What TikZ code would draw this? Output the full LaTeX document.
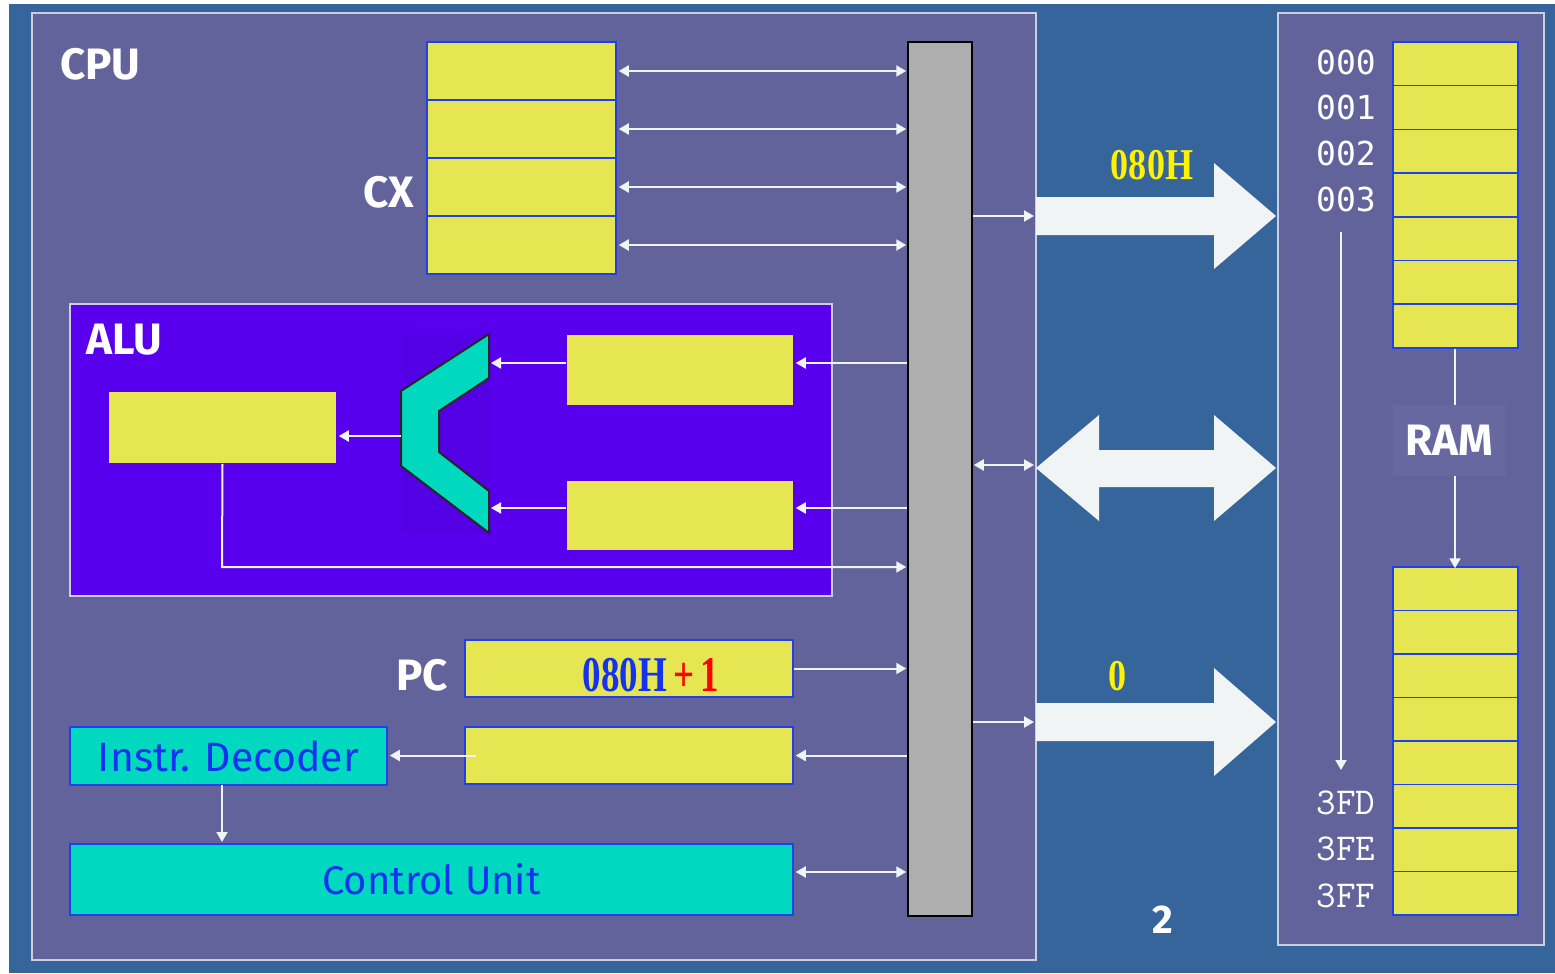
\documentclass[tikz,border=0pt]{standalone}
\usepackage{fontspec}
\usetikzlibrary{arrows.meta}
\newfontfamily\labf{Fira Sans}
\newfontfamily\serf{Liberation Serif}
\newfontfamily\monoa{DejaVu Sans Mono}
\definecolor{bgblue}{RGB}{53,101,154}
\definecolor{panelc}{RGB}{98,99,155}
\definecolor{panelb}{RGB}{205,205,225}
\definecolor{yel}{RGB}{230,230,82}
\definecolor{regb}{RGB}{32,64,240}
\definecolor{alufill}{RGB}{88,0,238}
\definecolor{tealc}{RGB}{0,216,192}
\definecolor{busc}{RGB}{174,174,174}
\definecolor{arrw}{RGB}{240,244,244}
\definecolor{txtblue}{RGB}{20,50,240}
\definecolor{ramlab}{RGB}{104,104,160}
\begin{document}
\begin{tikzpicture}[x=1pt,y=-1pt,
  reg/.style={draw=regb,fill=yel,line width=1.5pt,inner sep=0pt,rectangle},
  tealbox/.style={draw=regb,fill=tealc,line width=1.5pt,inner sep=0pt,rectangle,text=txtblue},
  panel/.style={draw=panelb,fill=panelc,line width=2pt,inner sep=0pt,rectangle},
  lbl/.style={text=white,font=\labf\bfseries\fontsize{44}{44}\selectfont,inner sep=0pt},
  wa/.style={draw=arrw,line width=2pt,-{Triangle[width=11pt,length=10pt]}},
  wd/.style={draw=arrw,line width=2pt,{Triangle[width=11pt,length=10pt]}-{Triangle[width=11pt,length=10pt]}},
  wl/.style={draw=arrw,line width=2pt}]
\useasboundingbox (0,0) rectangle (1555,974);
\fill[white] (0,0) rectangle (1555,974);
\fill[bgblue] (9,4) rectangle (1555,973);
% panels
\node[panel,minimum width=1004pt,minimum height=947pt] (cpu) at (534,486.5) {};
\node[panel,minimum width=266pt,minimum height=932pt] (ram) at (1411,479) {};
\node[lbl,anchor=west] (cpulab) at (60,64) {CPU};
% CX registers
\foreach \i/\yy in {1/71,2/129,3/187,4/245}{
  \node[reg,minimum width=189pt,minimum height=58pt] (cx\i) at (521.5,\yy) {};
}
\node[lbl,anchor=east] (cxlab) at (414,192) {CX};
% bus
\node[draw=black,fill=busc,line width=1.5pt,minimum width=64pt,minimum height=874pt,inner sep=0pt] (bus) at (940,479) {};
\foreach \i in {1,2,3,4}{
  \draw[wd] ([xshift=2pt]cx\i.east) -- ([xshift=-1pt]cx\i.east -| bus.west);
}
% ALU
\node[draw=panelb,fill=alufill,line width=2pt,minimum width=762pt,minimum height=292pt,inner sep=0pt] (alu) at (451,450) {};
\node[lbl,anchor=west] (alulab) at (86,340) {ALU};
\node[reg,draw=none,minimum width=227pt,minimum height=71pt] (res) at (222.5,427.5) {};
\node[reg,draw=none,minimum width=226pt,minimum height=70pt] (op1) at (680,370) {};
\node[reg,draw=none,minimum width=226pt,minimum height=69pt] (op2) at (680,515.5) {};
\fill[alufill!80!black,opacity=0.2] (401,334) rectangle (491,534);
\draw[fill=tealc,line width=2pt,draw=black!85] (489,334) -- (489,378) -- (439,411) -- (439,452) -- (489,491) -- (489,533) -- (401,466) -- (401,391) -- cycle;
\coordinate (addin1) at (491,363);
\coordinate (addin2) at (491,508);
\coordinate (addout) at (401,436);
\draw[wa] (op1.west |- addin1) -- (addin1);
\draw[wa] (op2.west |- addin2) -- (addin2);
\draw[wa] (bus.west |- 0,363) -- ([xshift=2pt]op1.east |- 0,363);
\draw[wa] (bus.west |- 0,508) -- ([xshift=2pt]op2.east |- 0,508);
\draw[wa] (addout) -- ([xshift=2pt]res.east |- addout);
\coordinate (resturn) at (222,567);
\draw[wa] (res.south) -- (resturn) -- ([xshift=-1pt]bus.west |- resturn);
% PC and IR
\node[lbl,anchor=east] (pclab) at (448,675) {PC};
\node[reg,minimum width=328pt,minimum height=57pt] (pc) at (629,668.5) {};
\node[inner sep=0pt] (pctext) at (651,675) {\scalebox{0.74}[1]{\serf\bfseries\fontsize{50}{50}\selectfont\textcolor{txtblue}{080H}\,\textcolor{red}{+\,1}}};
\draw[wa] (pc.east) -- ([xshift=-1pt]pc.east -| bus.west);
\node[reg,minimum width=328pt,minimum height=57pt] (ir) at (629,755.5) {};
\draw[wa] (bus.west |- ir.east) -- ([xshift=2pt]ir.east);
\node[tealbox,minimum width=317pt,minimum height=58pt,font=\labf\fontsize{41}{41}\selectfont] (dec) at (228.5,756) {Instr. Decoder};
\draw[wa] ([xshift=12pt]ir.west) -- ([xshift=2pt]dec.east |- ir.west);
\node[tealbox,minimum width=723pt,minimum height=71pt,font=\labf\fontsize{40}{40}\selectfont] (cu) at (431.5,879.5) {Control Unit};
\draw[wa] (222,785) -- (222,842);
\draw[wd] ([xshift=2pt]cu.east |- 0,872) -- ([xshift=-1pt]bus.west |- 0,872);
% bus to big arrows
\draw[wa] (bus.east |- 0,216) -- (1034,216);
\draw[wd] ([xshift=1pt]bus.east |- 0,465) -- (1034,465);
\draw[wa] (bus.east |- 0,722) -- (1034,722);
% big arrows
\fill[arrw] (1036,197) -- (1214,197) -- (1214,163) -- (1276,216) -- (1214,269) -- (1214,235) -- (1036,235) -- cycle;
\fill[arrw] (1036,468) -- (1099,415) -- (1099,450) -- (1214,450) -- (1214,415) -- (1276,468) -- (1214,521) -- (1214,487) -- (1099,487) -- (1099,521) -- cycle;
\fill[arrw] (1036,703) -- (1214,703) -- (1214,668) -- (1276,722) -- (1214,776) -- (1214,741) -- (1036,741) -- cycle;
\node[inner sep=0pt,text=yellow] (addrlab) at (1152,165) {\scalebox{0.82}[1]{\serf\bfseries\fontsize{44}{44}\selectfont 080H}};
\node[inner sep=0pt,text=yellow] (datalab) at (1118,676) {\scalebox{0.82}[1]{\serf\bfseries\fontsize{44}{44}\selectfont 0}};
\node[inner sep=0pt,text=white,font=\labf\bfseries\fontsize{40}{40}\selectfont] (pagenum) at (1163,920) {2};
% RAM cells
\foreach \i in {0,...,6}{
  \node[reg,minimum width=125pt,minimum height=43.7pt] (rt\i) at (1455.5,{63.85+43.7*\i}) {};
}
\foreach \i in {0,...,7}{
  \node[reg,minimum width=125pt,minimum height=43.5pt] (rb\i) at (1455.5,{588.75+43.5*\i}) {};
}
\node[inner sep=0pt,text=white,font=\monoa\fontsize{33}{33}\selectfont] (a0) at (1346,62) {000};
\node[inner sep=0pt,text=white,font=\monoa\fontsize{33}{33}\selectfont] (a1) at (1346,107) {001};
\node[inner sep=0pt,text=white,font=\monoa\fontsize{33}{33}\selectfont] (a2) at (1346,153) {002};
\node[inner sep=0pt,text=white,font=\monoa\fontsize{33}{33}\selectfont] (a3) at (1346,199) {003};
\node[inner sep=0pt,text=white,font=\ttfamily\fontsize{38}{38}\selectfont] (b0) at (1346,803) {3FD};
\node[inner sep=0pt,text=white,font=\ttfamily\fontsize{38}{38}\selectfont] (b1) at (1346,849) {3FE};
\node[inner sep=0pt,text=white,font=\ttfamily\fontsize{38}{38}\selectfont] (b2) at (1346,896) {3FF};
\coordinate (scanend) at (1341,770);
\draw[wa] (1341,232) -- (scanend);
\node[fill=ramlab,minimum width=113pt,minimum height=71pt,inner sep=0pt,lbl] (ramlab) at (1449.5,440.5) {RAM};
\draw[wl] (rt6.south -| 1455,0) -- (1455,405);
\draw[wa] (1455,476) -- ([yshift=-2pt]rb0.north -| 1455,0);
\end{tikzpicture}
\end{document}
